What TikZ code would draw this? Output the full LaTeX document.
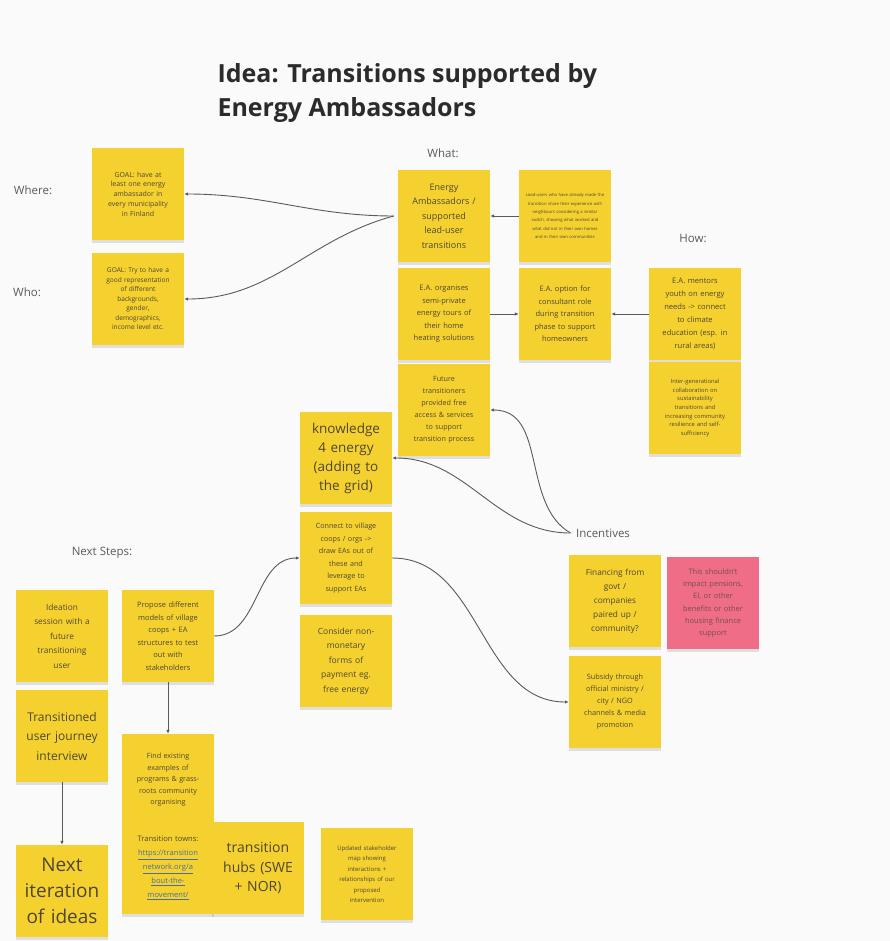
\documentclass[tikz,border=0pt]{standalone}
\usepackage{fontspec}
\setmainfont{Open Sans}
\usetikzlibrary{positioning, arrows.meta, shadows}
\definecolor{sticky}{HTML}{F5D130}
\definecolor{stickypink}{HTML}{EF6D86}
\definecolor{inkgray}{HTML}{4E4733}
\definecolor{linegray}{HTML}{5A5A5A}
\definecolor{titlegray}{HTML}{2B2B2B}
\definecolor{linkblue}{HTML}{4A6F9F}
\definecolor{boardbg}{HTML}{FAFAFB}
\tikzset{
  note/.style={fill=sticky, minimum width=92pt, minimum height=92pt,
    text width=88pt, align=center, inner sep=2pt, text=inkgray,
    font=\fontsize{7.5}{12}\selectfont,
    drop shadow={shadow xshift=0pt, shadow yshift=-3pt, opacity=.22}},
  pinknote/.style={note, fill=stickypink},
  heading/.style={text=linegray, font=\fontsize{11.5}{14}\selectfont},
  conn/.style={draw=linegray, line width=0.9pt, -{Latex[length=4pt,width=3.5pt]}},
}
\newcommand{\linkline}[1]{\textcolor{linkblue}{\underline{#1}}}
\hyphenpenalty=10000

\begin{document}
\begin{tikzpicture}[x=1pt,y=1pt]
  % board
  \fill[boardbg] (0,0) rectangle (890,-941);
  \useasboundingbox (0,0) rectangle (890,-941);

  % title
  \node[anchor=north west, align=left, text=titlegray,
    font=\fontsize{25}{34}\selectfont\bfseries] (title) at (214,-60)
    {Idea: Transitions supported by\\Energy Ambassadors};

  % headings
  \node[heading] (where) at (33,-190) {Where:};
  \node[heading] (who) at (27,-292) {Who:};
  \node[heading] (what) at (443,-153) {What:};
  \node[heading] (how) at (693,-238) {How:};
  \node[heading] (incentives) at (603,-533) {Incentives};
  \node[heading] (nextsteps) at (102,-553) {Next Steps:};

  % where / who
  \node[note, font=\fontsize{7}{9.8}\selectfont] (goalwhere) at (138,-194)
    {GOAL: have at\\least one energy\\ambassador in\\every municipality\\in Finland};
  \node[note, font=\fontsize{6.6}{9.5}\selectfont] (goalwho) at (138,-299)
    {GOAL: Try to have a\\good representation\\of different\\backgrounds,\\gender,\\demographics,\\income level etc.};

  % what
  \node[note, font=\fontsize{9}{14.5}\selectfont] (ea) at (444,-216)
    {Energy\\Ambassadors /\\supported\\lead-user\\transitions};
  \node[note, font=\fontsize{4.2}{8.3}\selectfont] (lead) at (565,-216)
    {Lead-users who have already made the\\transition share their experience with\\neighbours considering a similar\\switch, showing what worked and\\what did not in their own homes\\and in their own communities};
  \node[note, font=\fontsize{7.5}{12.5}\selectfont] (tours) at (444,-314)
    {E.A. organises\\semi-private\\energy tours of\\their home\\heating solutions};
  \node[note, font=\fontsize{7.5}{12.5}\selectfont] (consult) at (565,-314)
    {E.A. option for\\consultant role\\during transition\\phase to support\\homeowners};
  \node[note, font=\fontsize{7.2}{12}\selectfont] (future) at (444,-410)
    {Future\\transitioners\\provided free\\access \& services\\to support\\transition process};

  % how
  \node[note, font=\fontsize{7.6}{13}\selectfont] (mentor) at (695,-314)
    {E.A. mentors\\youth on energy\\needs -> connect\\to climate\\education (esp. in\\rural areas)};
  \node[note, font=\fontsize{5.8}{8.6}\selectfont] (intergen) at (695,-408)
    {Inter-generational\\collaboration on\\sustainability\\transitions and\\increasing community\\resilience and self-\\sufficiency};

  % centre column
  \node[note, font=\fontsize{13.5}{19}\selectfont] (knowledge) at (346,-458)
    {knowledge\\4 energy\\(adding to\\the grid)};
  \node[note, font=\fontsize{7.2}{12.5}\selectfont] (coops) at (346,-558)
    {Connect to village\\coops / orgs ->\\draw EAs out of\\these and\\leverage to\\support EAs};
  \node[note, font=\fontsize{8.5}{14.5}\selectfont] (payment) at (346,-661)
    {Consider non-\\monetary\\forms of\\payment eg.\\free energy};

  % incentives
  \node[note, font=\fontsize{8.3}{14}\selectfont] (financing) at (615,-601)
    {Financing from\\govt /\\companies\\paired up /\\community?};
  \node[pinknote, text=inkgray!75!stickypink, font=\fontsize{7.5}{12.3}\selectfont] (pensions) at (713,-603)
    {This shouldn't\\impact pensions,\\EI, or other\\benefits or other\\housing finance\\support};
  \node[note, font=\fontsize{7.3}{12}\selectfont] (subsidy) at (615,-702)
    {Subsidy through\\official ministry /\\city / NGO\\channels \& media\\promotion};

  % next steps
  \node[note, font=\fontsize{8.3}{14.5}\selectfont] (ideation) at (62,-636)
    {Ideation\\session with a\\future\\transitioning\\user};
  \node[note, font=\fontsize{7.5}{12.5}\selectfont] (propose) at (168,-636)
    {Propose different\\models of village\\coops + EA\\structures to test\\out with\\stakeholders};
  \node[note, font=\fontsize{12}{19.5}\selectfont] (journey) at (62,-736)
    {Transitioned\\user journey\\interview};
  \node[note, font=\fontsize{7.2}{11.5}\selectfont] (examples) at (168,-780)
    {Find existing\\examples of\\programs \& grass-\\roots community\\organising};
  \node[note, font=\fontsize{7.6}{14}\selectfont] (towns) at (168,-868)
    {Transition towns:\\ \linkline{https://transition}\\ \linkline{network.org/a}\\ \linkline{bout-the-}\\ \linkline{movement/}};
  \node[note, font=\fontsize{14}{19.5}\selectfont] (hubs) at (258,-868)
    {transition\\hubs (SWE\\+ NOR)};
  \node[note, font=\fontsize{6}{10.5}\selectfont] (stakeholder) at (367,-874)
    {Updated stakeholder\\map showing\\interactions +\\relationships of our\\proposed\\intervention};
  \node[note, font=\fontsize{19}{26}\selectfont] (nextiter) at (62,-891)
    {Next\\iteration\\of ideas};

  % connectors
  \coordinate (eaout) at ([xshift=-4pt]ea.west);
  \draw[conn] (eaout) to[out=180,in=0] (goalwhere.east);
  \draw[conn] (eaout) to[out=195,in=0] (goalwho.east);
  \draw[conn] (lead.west) -- (ea.east);
  \draw[conn] (tours.east) -- (consult.west);
  \draw[conn] (mentor.west) -- (consult.east);
  \coordinate (incout) at ([xshift=-2pt]incentives.west);
  \draw[conn] (incout) to[out=150,in=0] (future.east);
  \draw[conn] (incout) to[out=180,in=0] (knowledge.east);
  \draw[conn] (coops.east) to[out=0,in=180] (subsidy.west);
  \draw[conn] (propose.east) to[out=0,in=180] (coops.west);
  \draw[conn] (propose.south) -- (examples.north);
  \draw[conn] (journey.south) -- (nextiter.north);
\end{tikzpicture}
\end{document}
